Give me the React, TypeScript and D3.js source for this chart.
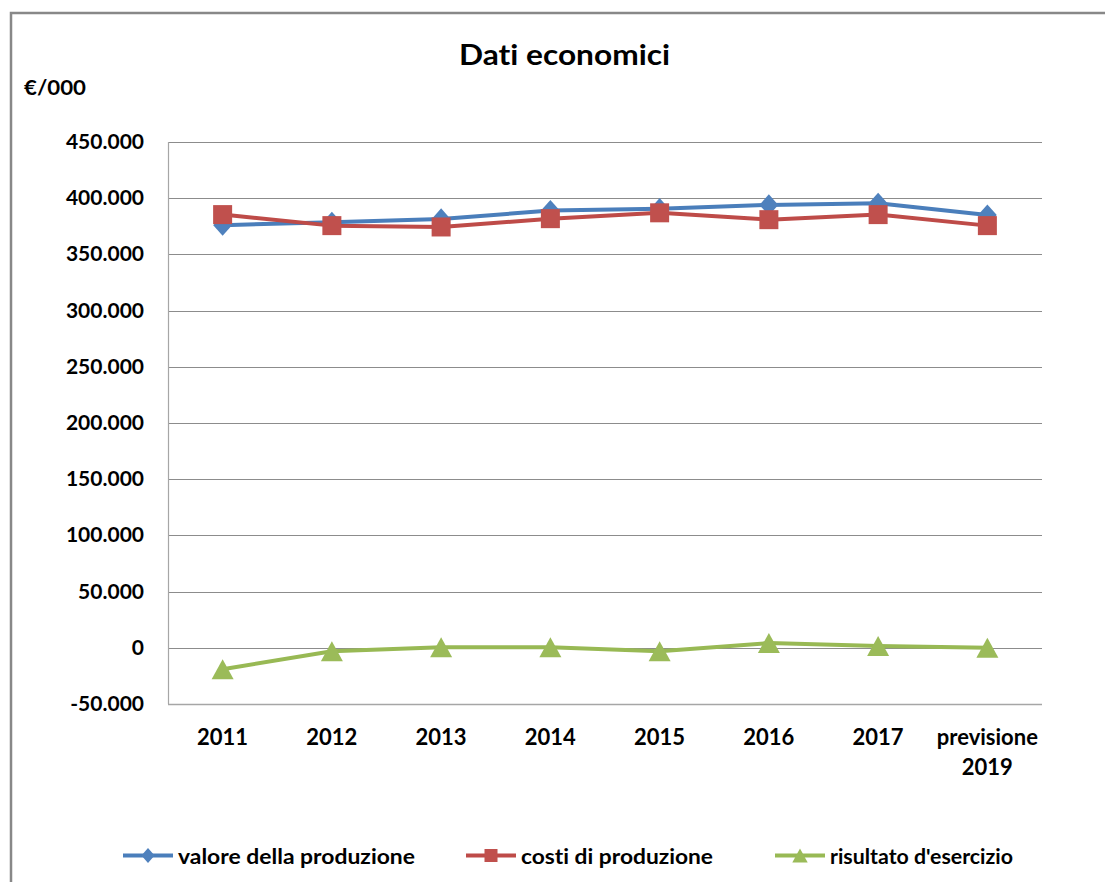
import React from "react";
import * as d3 from "d3";

const categories: string[][] = [["2011"], ["2012"], ["2013"], ["2014"], ["2015"], ["2016"], ["2017"], ["previsione", "2019"]];
const valoreProduzione = [376000, 378600, 381600, 389000, 390700, 394000, 395500, 385000];
const costiProduzione = [385400, 375600, 374400, 381800, 387000, 380900, 385400, 375600];
const risultatoEsercizio = [-19000, -3000, 500, 500, -3000, 4200, 1500, 0];
const yTicks = [-50000, 0, 50000, 100000, 150000, 200000, 250000, 300000, 350000, 400000, 450000];
const seriesNames = ["valore della produzione", "costi di produzione", "risultato d'esercizio"];

const W = 1105, H = 882;
const left = 168, right = 1042, top = 142, bottom = 704;
const FONT = "Lato, 'Open Sans', sans-serif";

const fmt = d3.formatLocale({ decimal: ",", thousands: ".", grouping: [3], currency: ["€", ""], minus: "-" }).format(",");

export default function App() {
  const x = d3.scaleBand<number>().domain(d3.range(categories.length)).range([left, right]).padding(0);
  const y = d3.scaleLinear().domain([-50000, 450000]).range([bottom, top]);
  const cx = (i: number) => (x(i) as number) + x.bandwidth() / 2;
  const line = d3.line<number>().x((_, i) => cx(i)).y((v) => y(v));

  const series = [
    { name: seriesNames[0], values: valoreProduzione, line: "#4A7EBB", fill: "#4F81BD", shape: "diamond" },
    { name: seriesNames[1], values: costiProduzione, line: "#BE4B48", fill: "#C0504D", shape: "square" },
    { name: seriesNames[2], values: risultatoEsercizio, line: "#98B954", fill: "#9BBB59", shape: "triangle" },
  ];

  const marker = (shape: string, px: number, py: number, s: number, fill: string, key: any) => {
    if (shape === "diamond") {
      const hw = s * 0.47, hh = s * 0.53;
      return <path key={key} d={`M${px},${py - hh}L${px + hw},${py}L${px},${py + hh}L${px - hw},${py}Z`} fill={fill} />;
    }
    if (shape === "square") {
      return <rect key={key} x={px - s / 2} y={py - s / 2} width={s} height={s} fill={fill} />;
    }
    const hw = s * 0.55, hh = s * 0.5;
    return <path key={key} d={`M${px},${py - hh}L${px + hw},${py + hh}L${px - hw},${py + hh}Z`} fill={fill} />;
  };

  const legendItems = [
    { lx: 123, tx: 178, tl: 237 },
    { lx: 466, tx: 521, tl: 192 },
    { lx: 775, tx: 830, tl: 183 },
  ];

  return (
    <svg width={W} height={H} style={{ position: "absolute", left: 0, top: 0, background: "#fff", fontVariantLigatures: "none" }} fontFamily={FONT}>
      <rect x={0} y={0} width={W} height={H} fill="#fff" />
      <rect x={11} y={13} width={1300} height={1000} fill="none" stroke="#888" strokeWidth={2.5} />
      <text x={564.5} y={65} textAnchor="middle" fontSize={28} fontWeight="bold" textLength={211} lengthAdjust="spacingAndGlyphs">Dati economici</text>
      <text x={24} y={95} fontSize={21} fontWeight="bold" textLength={62} lengthAdjust="spacingAndGlyphs">€/000</text>

      {yTicks.map((t) => (
        <g key={t}>
          <line x1={left} x2={right} y1={Math.round(y(t)) + 0.5} y2={Math.round(y(t)) + 0.5} stroke={t === -50000 ? "#a6a6a6" : "#8c8c8c"} strokeWidth={t === -50000 ? 1.5 : 1} />
          <text x={144} y={y(t) + 7} textAnchor="end" fontSize={21} fontWeight="bold">{fmt(t)}</text>
        </g>
      ))}
      <line x1={left + 0.5} x2={left + 0.5} y1={top} y2={bottom} stroke="#a6a6a6" strokeWidth={1.2} />

      {categories.map((lines, i) => (
        <text key={i} textAnchor="middle" fontSize={22} fontWeight="bold">
          {lines.map((l, j) => (
            <tspan key={j} x={cx(i)} y={745 + j * 30}>{l}</tspan>
          ))}
        </text>
      ))}

      {series.map((s, si) => (
        <g key={si}>
          <path d={line(s.values) || ""} fill="none" stroke={s.line} strokeWidth={4} strokeLinejoin="round" />
          {s.values.map((v, i) => marker(s.shape, cx(i), y(v), s.shape === "square" ? 19 : 20, s.fill, i))}
        </g>
      ))}

      {series.map((s, si) => {
        const L = legendItems[si];
        return (
          <g key={"lg" + si}>
            <line x1={L.lx} x2={L.lx + 50} y1={855.5} y2={855.5} stroke={s.line} strokeWidth={4} />
            {marker(s.shape, L.lx + 25, 855.5, s.shape === "square" ? 13 : 14, s.fill, "m")}
            <text x={L.tx} y={864} fontSize={20} fontWeight="bold" textLength={L.tl} lengthAdjust="spacingAndGlyphs">{s.name}</text>
          </g>
        );
      })}
    </svg>
  );
}
